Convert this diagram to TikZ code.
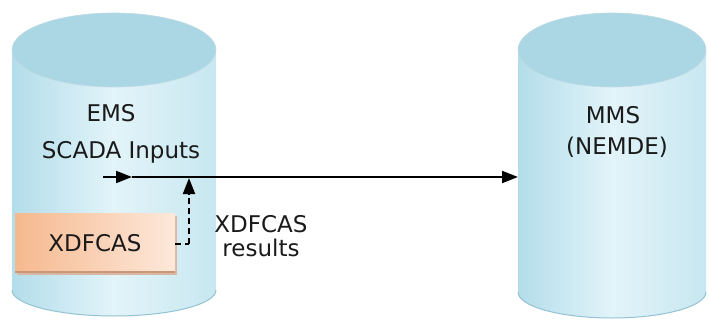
\documentclass[tikz,border=0pt]{standalone}
\usepackage{fontspec}
\setmainfont{DejaVu Sans}
\usetikzlibrary{arrows.meta}
\definecolor{cylL}{HTML}{B3DDEA}
\definecolor{cylM}{HTML}{E2F4F9}
\definecolor{cylR}{HTML}{C8E7F0}
\definecolor{capC}{HTML}{ABD7E5}
\definecolor{rimC}{HTML}{93C3D2}
\definecolor{boxL}{HTML}{F6B98F}
\definecolor{boxR}{HTML}{FDE8DA}
\definecolor{boxS}{HTML}{C9987A}
\definecolor{txt}{HTML}{1A1A1A}
\tikzset{
  lbl/.style={font=\fontsize{23}{24}\selectfont, text=txt, inner sep=0pt, align=center},
  conn/.style={line width=2pt, draw=black},
  tip/.style={-{Triangle[length=16pt,width=12pt]}},
  dashconn/.style={line width=2pt, draw=black, dash pattern=on 6pt off 4pt}
}
\newcommand{\cylbody}[4]{% cx, rx, top y, bottom y
  \path[left color=cylL, right color=cylR, middle color=cylM]
    (#1-#2,#3) -- (#1-#2,#4) arc[start angle=180, end angle=0, x radius=#2, y radius=26]
    -- (#1+#2,#3) arc[start angle=0, end angle=-180, x radius=#2, y radius=37] -- cycle;
  \draw[rimC, line width=1pt] (#1-#2,#4) arc[start angle=180, end angle=0, x radius=#2, y radius=26];
  \fill[capC] (#1,#3) ellipse[x radius=#2, y radius=37];
  \draw[rimC!60!white, line width=0.6pt] (#1,#3) ellipse[x radius=#2, y radius=37];
}
\begin{document}
\begin{tikzpicture}[x=1pt, y=-1pt]
\useasboundingbox (0,0) rectangle (709,321);
\fill[white] (0,0) rectangle (709,321);
% cylinders
\cylbody{114}{102}{50}{290}
\cylbody{612}{94}{50}{292}
% XDFCAS box
\fill[boxS!70!white] (17,216) rectangle (177,275);
\shade[left color=boxL, right color=boxR] (15,213) rectangle (175,272);
\draw[boxS, line width=1.2pt] (15,272) -- (175,272);
\node[lbl] (xdf) at (95,243) {XDFCAS};
\node[inner sep=0pt, minimum width=160pt, minimum height=59pt] (xdfbox) at (95,242.5) {};
% texts
\node[lbl] (ems) at (111,113) {EMS};
\node[lbl] (scada) at (121,152) {SCADA Inputs};
\node[lbl] (mms) at (613,115) {MMS};
\node[lbl] (nemde) at (617,147) {(NEMDE)};
\node[lbl] (res) at (261,236) {XDFCAS\\results};
% connectors
\coordinate (start) at (103,177);
\coordinate (midtip) at (132,177);
\coordinate (mmsin) at (518,177);
\coordinate (bend) at (189,244);
\coordinate (join) at (189,178);
\draw[conn, tip] (start) -- (midtip);
\draw[conn, tip] (midtip) -- (mmsin);
\draw[dashconn] (xdfbox.east |- bend) -- (bend);
\draw[dashconn, tip] (bend) -- (join);
\end{tikzpicture}
\end{document}
